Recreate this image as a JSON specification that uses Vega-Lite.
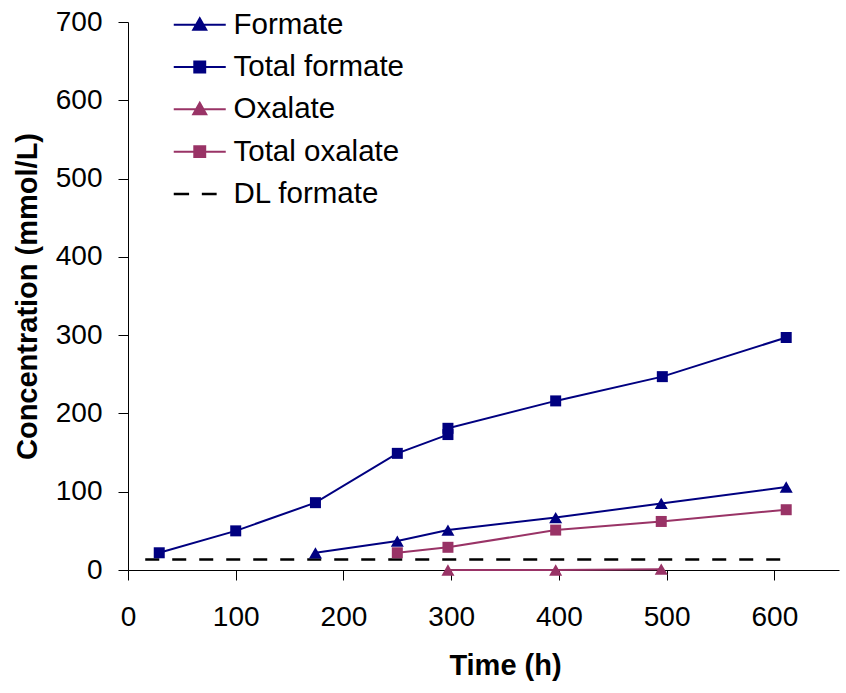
{
  "$schema": "https://vega.github.io/schema/vega-lite/v6.json",
  "autosize": {"type": "none"},
  "padding": {"left": 128, "top": 22, "right": 7, "bottom": 123},
  "width": 711,
  "height": 548,
  "config": {"view": {"stroke": null}, "font": "Liberation Sans"},
  "data": {
    "values": [
      {"series": "Formate", "t": 174, "v": 22, "ord": 1},
      {"series": "Formate", "t": 250, "v": 37, "ord": 2},
      {"series": "Formate", "t": 297, "v": 51, "ord": 3},
      {"series": "Formate", "t": 397, "v": 67, "ord": 4},
      {"series": "Formate", "t": 495, "v": 85, "ord": 5},
      {"series": "Formate", "t": 611, "v": 106, "ord": 6},
      {"series": "Total formate", "t": 29, "v": 22, "ord": 1},
      {"series": "Total formate", "t": 100, "v": 50, "ord": 2},
      {"series": "Total formate", "t": 174, "v": 86, "ord": 3},
      {"series": "Total formate", "t": 250, "v": 149, "ord": 4},
      {"series": "Total formate", "t": 297, "v": 173, "ord": 5},
      {"series": "Total formate", "t": 297, "v": 181, "ord": 6},
      {"series": "Total formate", "t": 397, "v": 216, "ord": 7},
      {"series": "Total formate", "t": 496, "v": 247, "ord": 8},
      {"series": "Total formate", "t": 611, "v": 297, "ord": 9},
      {"series": "Oxalate", "t": 297, "v": 0, "ord": 1},
      {"series": "Oxalate", "t": 397, "v": 0, "ord": 2},
      {"series": "Oxalate", "t": 495, "v": 1, "ord": 3},
      {"series": "Total oxalate", "t": 250, "v": 22, "ord": 1},
      {"series": "Total oxalate", "t": 297, "v": 29, "ord": 2},
      {"series": "Total oxalate", "t": 397, "v": 51, "ord": 3},
      {"series": "Total oxalate", "t": 495, "v": 62, "ord": 4},
      {"series": "Total oxalate", "t": 611, "v": 77, "ord": 5},
      {"series": "DL formate", "t": 16, "v": 13.5, "ord": 1},
      {"series": "DL formate", "t": 611, "v": 13.5, "ord": 2}
    ]
  },
  "encoding": {
    "x": {
      "field": "t", "type": "quantitative",
      "scale": {"domain": [0, 660], "nice": false},
      "axis": {
        "title": "Time (h)", "values": [0, 100, 200, 300, 400, 500, 600],
        "grid": false, "tickSize": 10, "labelPadding": 23,
        "labelFontSize": 28, "labelColor": "#000", "labelFont": "Liberation Sans",
        "titleFontSize": 29, "titleFontWeight": "bold", "titleColor": "#000", "titleFont": "Liberation Sans",
        "titlePadding": 20, "titleX": 377,
        "domainColor": "#000", "tickColor": "#000", "labelFlush": false
      }
    },
    "y": {
      "field": "v", "type": "quantitative",
      "scale": {"domain": [0, 700], "nice": false},
      "axis": {
        "title": "Concentration (mmol/L)", "values": [0, 100, 200, 300, 400, 500, 600, 700],
        "grid": false, "tickSize": 10, "labelPadding": 16,
        "labelFontSize": 28, "labelColor": "#000", "labelFont": "Liberation Sans",
        "titleFontSize": 29, "titleFontWeight": "bold", "titleColor": "#000", "titleFont": "Liberation Sans",
        "titlePadding": 13, "domainColor": "#000", "tickColor": "#000", "labelFlush": false
      }
    },
    "color": {
      "field": "series", "type": "nominal",
      "scale": {
        "domain": ["Formate", "Total formate", "Oxalate", "Total oxalate", "DL formate"],
        "range": ["#000080", "#000080", "#993366", "#993366", "#000000"]
      },
      "legend": {
        "title": null, "orient": "none", "legendX": 57, "legendY": -12,
        "direction": "vertical", "padding": 0,
        "symbolSize": 2704, "labelOffset": 19, "rowPadding": 11.3, "labelLimit": 500,
        "labelFontSize": 29.5, "labelFont": "Liberation Sans", "labelColor": "#000", "labelBaseline": "middle",
        "encode": {
          "symbols": {
            "update": {
              "shape": {"signal": "datum.value === 'DL formate' ? 'M-1,0H-0.41M0.08,0H0.65' : ((datum.value === 'Formate' || datum.value === 'Oxalate') ? 'M-1,0H1M0,-0.25L0.25,0.19L-0.25,0.19Z' : 'M-1,0H1M-0.21,-0.21H0.21V0.21H-0.21Z')"},
              "fill": {"signal": "datum.value === 'DL formate' ? 'transparent' : scale('color', datum.value)"},
              "stroke": {"signal": "scale('color', datum.value)"},
              "strokeWidth": {"signal": "datum.value === 'DL formate' ? 2.5 : 2"},
              "opacity": {"value": 1}
            }
          }
        }
      }
    }
  },
  "layer": [
    {
      "transform": [{"filter": "datum.series === 'DL formate'"}],
      "mark": {"type": "line", "strokeWidth": 2.5, "strokeDash": [14, 13]},
      "encoding": {"order": {"field": "ord", "type": "quantitative"}}
    },
    {
      "transform": [{"filter": "datum.series !== 'DL formate'"}],
      "mark": {"type": "line", "strokeWidth": 2},
      "encoding": {"order": {"field": "ord", "type": "quantitative"}}
    },
    {
      "transform": [{"filter": "datum.series === 'Formate' || datum.series === 'Oxalate'"}],
      "mark": {"type": "point", "filled": true, "shape": "triangle-up", "size": 170, "opacity": 1}
    },
    {
      "transform": [{"filter": "datum.series === 'Total formate' || datum.series === 'Total oxalate'"}],
      "mark": {"type": "point", "filled": true, "shape": "square", "size": 121, "opacity": 1}
    }
  ]
}
